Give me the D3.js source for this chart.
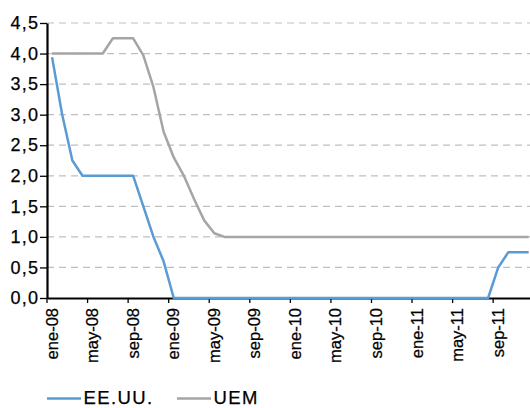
<!DOCTYPE html>
<html>
<head>
<meta charset="utf-8">
<script src="https://cdn.jsdelivr.net/npm/d3@7"></script>
<style>
	body { margin: 0; background: #fff; }
	text { font-family: "Liberation Sans", Arial, sans-serif; fill: #000; stroke: #000; stroke-width: 0.25px; }
</style>
</head>
<body>
<script>
// meses ene-08 .. dic-11
const monthNames = ['ene', 'feb', 'mar', 'abr', 'may', 'jun', 'jul', 'ago', 'sep', 'oct', 'nov', 'dic'];
const years = ['08', '09', '10', '11'];
const months = years.flatMap(y => monthNames.map(m => m + '-' + y));

const eeuu = [
	3.94, 3.0, 2.25, 2.0, 2.0, 2.0, 2.0, 2.0, 2.0, 1.5, 1.0, 0.6,
	0, 0, 0, 0, 0, 0, 0, 0, 0, 0, 0, 0,
	0, 0, 0, 0, 0, 0, 0, 0, 0, 0, 0, 0,
	0, 0, 0, 0, 0, 0, 0, 0, 0.5, 0.75, 0.75, 0.75
];
const uem = [
	4.0, 4.0, 4.0, 4.0, 4.0, 4.0, 4.25, 4.25, 4.25, 3.97, 3.45, 2.72,
	2.3, 2.0, 1.62, 1.27, 1.06, 1.0, 1.0, 1.0, 1.0, 1.0, 1.0, 1.0,
	1.0, 1.0, 1.0, 1.0, 1.0, 1.0, 1.0, 1.0, 1.0, 1.0, 1.0, 1.0,
	1.0, 1.0, 1.0, 1.0, 1.0, 1.0, 1.0, 1.0, 1.0, 1.0, 1.0, 1.0
];
const yTicks = [0, 0.5, 1.0, 1.5, 2.0, 2.5, 3.0, 3.5, 4.0, 4.5];
const xTickLabels = months.filter((m, i) => i % 4 === 0);

const series = [
	{ name: 'EE.UU.', values: eeuu, color: '#5b9bd5' },
	{ name: 'UEM', values: uem, color: '#a5a5a5' }
];

var width = 530;
var height = 408;
var plotLeft = 47, plotTop = 23, plotBottom = 298;
var bandW = 10.14;

let svg = d3.select('body')
	.append('svg')
	.attr('width', width)
	.attr('height', height);

let x = d3.scaleBand()
	.domain(months)
	.range([plotLeft, plotLeft + months.length * bandW])
	.padding(0);

let y = d3.scaleLinear()
	.domain([0, 4.5])
	.range([plotBottom, plotTop]);

let fmt = d3.formatLocale({ decimal: ',', thousands: '.', grouping: [3], currency: ['', '€'] }).format('.1f');

// rejilla
svg.append('g')
	.selectAll('line')
	.data(yTicks.filter(d => d > 0))
	.enter().append('line')
	.attr('x1', plotLeft)
	.attr('x2', width)
	.attr('y1', d => y(d))
	.attr('y2', d => y(d))
	.style('stroke', '#bfbfbf')
	.style('stroke-width', 1.2)
	.style('stroke-dasharray', '7,5');

// eje Y
let yAxis = svg.append('g')
	.attr('transform', `translate(${plotLeft},0)`)
	.call(d3.axisLeft(y).tickValues(yTicks).tickFormat(fmt).tickSize(7).tickPadding(0.7).tickSizeOuter(0));
yAxis.select('.domain').style('stroke-width', 2.2);
yAxis.selectAll('.tick line').style('stroke-width', 1.3);
yAxis.selectAll('text')
	.style('font-size', '18px')
	.style('letter-spacing', '1.3px');

// eje X
let xAxis = svg.append('g')
	.attr('transform', `translate(0,${plotBottom})`)
	.call(d3.axisBottom(x).tickValues(xTickLabels).tickSize(5).tickSizeOuter(0));
xAxis.select('.domain').style('stroke-width', 2.2);
xAxis.selectAll('.tick line')
	.attr('transform', `translate(${-x.bandwidth() / 2},0)`)
	.style('stroke-width', 1.3);
xAxis.selectAll('text')
	.style('font-size', '16.5px')
	.attr('text-anchor', 'end')
	.attr('transform', 'rotate(-90)')
	.attr('x', -10)
	.attr('y', -0.5)
	.attr('dy', '0.36em');

let line = d3.line()
	.x((d, i) => x(months[i]) + x.bandwidth() / 2)
	.y(d => y(d));

svg.append('g')
	.selectAll('path')
	.data(series.slice().reverse())
	.enter().append('path')
	.attr('d', d => line(d.values))
	.style('fill', 'none')
	.style('stroke', d => d.color)
	.style('stroke-width', 2.5)
	.style('stroke-linejoin', 'round');

// leyenda
let legendX = [47, 177];
let legend = svg.append('g')
	.selectAll('g')
	.data(series)
	.enter().append('g')
	.attr('transform', (d, i) => `translate(${legendX[i]},398.5)`);
legend.append('line')
	.attr('x1', 0)
	.attr('x2', 34)
	.style('stroke', d => d.color)
	.style('stroke-width', 2.5);
legend.append('text')
	.attr('x', 36.5)
	.attr('y', 5.5)
	.style('font-size', '18.5px')
	.style('letter-spacing', '1.4px')
	.text(d => d.name);
</script>
</body>
</html>
